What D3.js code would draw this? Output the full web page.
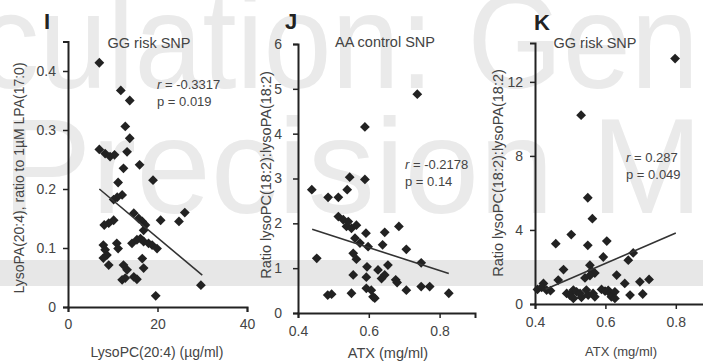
<!DOCTYPE html>
<html lang="en">
<head>
<meta charset="UTF-8">
<title>LysoPA / ATX scatter panels</title>
<script src="https://d3js.org/d3.v7.min.js"></script>
<style>
  body { margin: 0; background: #fff; }
  svg { display: block; font-family: "Liberation Sans", Arial, sans-serif; }
</style>
</head>
<body>
<script>
// ---- data ----
// panel I : LysoPC(20:4) (ug/ml) vs LysoPA(20:4) ratio
const pointsI = [[7.0,0.414],[11.8,0.367],[13.8,0.350],[12.8,0.306],[13.8,0.286],[7.0,0.267],[8.3,0.260],[9.4,0.255],
  [10.4,0.258],[13.2,0.263],[12.4,0.235],[16.0,0.241],[11.2,0.211],[19.0,0.215],[12.1,0.190],[11.0,0.186],[10.2,0.182],
  [14.7,0.159],[15.8,0.150],[16.6,0.145],[17.3,0.139],[16.9,0.130],[20.7,0.147],[24.8,0.145],[26.1,0.160],[10.2,0.147],
  [9.1,0.142],[8.1,0.139],[7.9,0.105],[8.3,0.097],[8.7,0.088],[7.9,0.083],[9.1,0.071],[10.9,0.108],[11.2,0.099],
  [14.3,0.108],[15.4,0.114],[16.2,0.116],[16.9,0.111],[18.0,0.108],[18.8,0.105],[19.9,0.099],[16.6,0.082],[16.9,0.066],
  [12.4,0.071],[13.2,0.063],[12.8,0.049],[12.1,0.046],[14.7,0.051],[15.4,0.047],[19.6,0.019],[29.7,0.037]];
const fitI = [[7.0,0.200],[30.0,0.054]];
const ticksIx = [0,20,40];
const ticksIy = [0,0.1,0.2,0.3,0.4];

// panel J : ATX vs ratio, AA control SNP
const pointsJ = [[0.737,4.88],[0.589,4.15],[0.546,3.03],[0.589,2.98],[0.439,2.75],[0.485,2.58],[0.514,2.58],[0.539,2.75],
  [0.514,2.15],[0.528,2.08],[0.542,2.04],[0.537,1.93],[0.551,1.89],[0.565,1.96],[0.453,1.22],[0.592,1.78],[0.645,1.80],
  [0.685,1.93],[0.706,1.42],[0.639,1.52],[0.561,1.67],[0.575,1.56],[0.598,1.48],[0.556,1.33],[0.565,1.20],[0.748,1.12],
  [0.595,1.03],[0.593,0.80],[0.626,0.96],[0.654,1.07],[0.645,0.85],[0.636,0.77],[0.676,0.74],[0.680,0.68],[0.556,0.85],
  [0.593,0.55],[0.607,0.51],[0.612,0.36],[0.617,0.33],[0.706,0.51],[0.748,0.59],[0.772,0.59],[0.484,0.40],[0.495,0.42],
  [0.551,0.44],[0.826,0.44]];
const fitJ = [[0.44,1.87],[0.826,0.88]];
const ticksJx = [0.4,0.6,0.8];
const ticksJy = [0,1,2,3,4,5,6];

// panel K : ATX vs ratio, GG risk SNP
const pointsK = [[0.798,13.26],[0.531,10.2],[0.550,5.74],[0.563,4.61],[0.503,3.75],[0.604,3.40],[0.459,3.26],[0.550,3.17],
  [0.594,2.54],[0.679,2.76],[0.665,2.37],[0.481,1.86],[0.556,2.10],[0.561,1.79],[0.570,1.67],[0.556,1.54],[0.542,1.41],
  [0.466,1.29],[0.424,1.11],[0.632,1.56],[0.655,1.11],[0.698,1.20],[0.724,1.33],[0.407,0.79],[0.419,0.90],[0.433,0.75],
  [0.444,0.72],[0.490,0.57],[0.499,0.48],[0.509,0.75],[0.518,0.66],[0.528,0.57],[0.509,0.30],[0.532,0.36],[0.546,0.75],
  [0.551,0.48],[0.565,0.57],[0.570,0.39],[0.589,0.79],[0.599,0.70],[0.608,0.74],[0.613,0.57],[0.617,0.39],[0.627,0.66],
  [0.627,0.30],[0.670,0.48],[0.706,0.54]];
const fitK = [[0.43,0.80],[0.80,3.83]];
const ticksKx = [0.4,0.6,0.8];
const ticksKy = [0,4,8,12];

const W = 703, H = 362;
const ink = "#222", grey = "#444";

var svg = d3.select("body").append("svg")
    .attr("width", W).attr("height", H);

// faint watermark + grey band behind the figure
svg.append("text").attr("x", -22).attr("y", 88)
    .attr("font-size", 135).attr("fill", "#eaeaea")
    .attr("textLength", 782).attr("lengthAdjust", "spacingAndGlyphs")
    .text("culation: Genc");
svg.append("text").attr("x", 2).attr("y", 213)
    .attr("font-size", 135).attr("fill", "#eaeaea")
    .attr("textLength", 850).attr("lengthAdjust", "spacingAndGlyphs")
    .text("Precision Med");
svg.append("rect").attr("x", 0).attr("y", 260).attr("width", W).attr("height", 26)
    .attr("fill", "#e7e7e7");

const diamond = d3.symbol().type(d3.symbolSquare).size(48);

function panel(cfg) {
    var g = svg.append("g");
    var x = cfg.x, y = cfg.y;

    // axes
    var ax = g.append("g").attr("transform", "translate(0," + y.range()[0] + ")")
        .call(d3.axisBottom(x).tickValues(cfg.tx).tickSizeOuter(0).tickSize(5).tickPadding(cfg.padX)
            .tickFormat(d3.format(cfg.fx)));
    var ay = g.append("g").attr("transform", "translate(" + x.range()[0] + ",0)")
        .call(d3.axisLeft(y).tickValues(cfg.ty).tickSizeOuter(0).tickSize(5).tickPadding(cfg.padY)
            .tickFormat(d3.format(cfg.fy)));
    [ax, ay].forEach(function(a) {
        a.select(".domain").attr("stroke", ink).attr("stroke-width", 2);
        a.selectAll(".tick line").attr("stroke", ink).attr("stroke-width", 1.5);
        a.selectAll(".tick text").attr("fill", grey).style("font-size", "14px")
            .style("font-family", "'Liberation Sans', Arial, sans-serif");
    });

    // points
    g.selectAll(".pt").data(cfg.pts).enter().append("path")
        .attr("class", "pt")
        .attr("d", diamond)
        .attr("transform", d => "translate(" + x(d[0]) + "," + y(d[1]) + ") rotate(45)")
        .attr("fill", ink);

    // regression line
    g.append("path").datum(cfg.fit)
        .attr("d", d3.line().x(d => x(d[0])).y(d => y(d[1])))
        .attr("stroke", "#333").attr("stroke-width", 1.6).attr("fill", "none");

    // labels
    g.append("text").attr("x", cfg.letter[0]).attr("y", cfg.letter[1])
        .attr("font-size", 22).attr("font-weight", "bold").attr("fill", ink).text(cfg.name);
    g.append("text").attr("x", cfg.title[0]).attr("y", cfg.title[1]).attr("text-anchor", "middle")
        .attr("font-size", 14.5).attr("fill", grey).text(cfg.titleText);
    g.append("text").attr("x", cfg.stat[0]).attr("y", cfg.stat[1])
        .attr("font-size", 13).attr("fill", grey)
        .html("<tspan font-style='italic'>r</tspan> = " + cfg.r);
    g.append("text").attr("x", cfg.stat[0]).attr("y", cfg.stat[1] + 17)
        .attr("font-size", 13).attr("fill", grey).text("p = " + cfg.p);
    g.append("text").attr("x", cfg.xlab[0]).attr("y", cfg.xlab[1]).attr("text-anchor", "middle")
        .attr("font-size", cfg.xlabSize).attr("fill", grey).text(cfg.xlabText);
    g.append("text").attr("transform", "translate(" + cfg.ylab[0] + "," + cfg.ylab[1] + ") rotate(-90)")
        .attr("text-anchor", "middle").attr("font-size", cfg.ylabSize).attr("fill", grey).text(cfg.ylabText);
}

panel({
    name: "I", pts: pointsI, fit: fitI, tx: ticksIx, ty: ticksIy, fx: "d", fy: ".1~f", padX: 7, padY: 7,
    x: d3.scaleLinear().domain([0, 40]).range([68, 247]),
    y: d3.scaleLinear().domain([0, 0.45]).range([307, 41.5]),
    letter: [44, 29], title: [149, 48], titleText: "GG risk SNP",
    stat: [157, 89], r: "-0.3317", p: "0.019",
    xlab: [157, 357], xlabSize: 14, xlabText: "LysoPC(20:4) (\u00b5g/ml)",
    ylab: [24, 178], ylabSize: 14, ylabText: "LysoPA(20:4), ratio to 1\u00b5M LPA(17:0)"
});

panel({
    name: "J", pts: pointsJ, fit: fitJ, tx: ticksJx, ty: ticksJy, fx: ".1f", fy: "d", padX: 8, padY: 11,
    x: d3.scaleLinear().domain([0.4, 0.9]).range([298, 475]),
    y: d3.scaleLinear().domain([0, 6]).range([313, 44]),
    letter: [285, 29], title: [385, 47], titleText: "AA control SNP",
    stat: [405, 169], r: "-0.2178", p: "0.14",
    xlab: [388, 358], xlabSize: 14.5, xlabText: "ATX (mg/ml)",
    ylab: [271, 175], ylabSize: 14.5, ylabText: "Ratio lysoPC(18:2):lysoPA(18:2)"
});

panel({
    name: "K", pts: pointsK, fit: fitK, tx: ticksKx, ty: ticksKy, fx: ".1f", fy: "d", padX: 8, padY: 7,
    x: d3.scaleLinear().domain([0.4, 0.9]).range([535, 711]),
    y: d3.scaleLinear().domain([0, 14.1]).range([304, 43]),
    letter: [534, 30], title: [595, 48], titleText: "GG risk SNP",
    stat: [626, 162], r: "0.287", p: "0.049",
    xlab: [621, 356], xlabSize: 13, xlabText: "ATX (mg/ml)",
    ylab: [503, 173], ylabSize: 14.5, ylabText: "Ratio lysoPC(18:2):lysoPA(18:2)"
});
</script>
</body>
</html>
